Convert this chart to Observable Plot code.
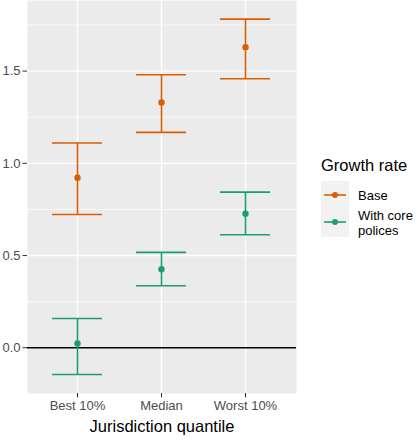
<!DOCTYPE html>
<html>
<head>
<meta charset="utf-8">
<script src="https://cdn.jsdelivr.net/npm/d3@7"></script>
<script src="https://cdn.jsdelivr.net/npm/@observablehq/plot@0.6"></script>
<style>
  html, body { margin: 0; padding: 0; background: #fff; }
  #wrap { position: relative; width: 417px; height: 440px; font-family: "Liberation Sans", Arial, sans-serif; }
  #legend { position: absolute; left: 321px; top: 155px; color: #000; }
  #legend .title { font-size: 16.5px; line-height: 20px; white-space: nowrap; }
  #legend .keys { position: absolute; left: 0; top: 26px; }
  #legend .lab { position: absolute; left: 37px; font-size: 13px; line-height: 15px; white-space: nowrap; }
</style>
</head>
<body>
<div id="wrap"></div>
<script>
const quantiles = ["Best 10%", "Median", "Worst 10%"];
const seriesNames = ["Base", "With core polices"];
const seriesColors = ["#D95F02", "#1B9E77"];
const baseMid = [0.922, 1.330, 1.630];
const baseLo  = [0.723, 1.168, 1.459];
const baseHi  = [1.110, 1.480, 1.782];
const coreMid = [0.023, 0.426, 0.727];
const coreLo  = [-0.145, 0.336, 0.613];
const coreHi  = [0.159, 0.517, 0.844];
const yTicks = [0, 0.5, 1.0, 1.5];
const yMinor = [0.25, 0.75, 1.25, 1.75];

const rows = [];
quantiles.forEach((q, i) => {
  rows.push({q, s: seriesNames[0], mid: baseMid[i], lo: baseLo[i], hi: baseHi[i]});
  rows.push({q, s: seriesNames[1], mid: coreMid[i], lo: coreLo[i], hi: coreHi[i]});
});

const plot = Plot.plot({
  width: 417,
  height: 440,
  marginLeft: 27,
  marginRight: 121,
  marginTop: 0,
  marginBottom: 47,
  style: {fontFamily: "Liberation Sans, Arial, sans-serif", fontSize: "13px", background: "#fff"},
  x: {type: "band", domain: quantiles, paddingInner: 0.4, paddingOuter: 0.3, label: null},
  y: {domain: [-0.248, 1.883], label: null},
  color: {domain: seriesNames, range: seriesColors},
  marks: [
    Plot.frame({fill: "#EBEBEB", stroke: null}),
    Plot.ruleY(yMinor, {stroke: "#fff", strokeWidth: 0.7}),
    Plot.ruleY(yTicks, {stroke: "#fff", strokeWidth: 1.4}),
    Plot.ruleX(quantiles, {stroke: "#fff", strokeWidth: 1.4}),
    Plot.ruleY([0], {stroke: "#000", strokeWidth: 1.3}),
    Plot.ruleX(rows, {x: "q", y1: "lo", y2: "hi", stroke: "s", strokeWidth: 1.6}),
    Plot.tickY(rows, {x: "q", y: "lo", stroke: "s", strokeWidth: 1.6}),
    Plot.tickY(rows, {x: "q", y: "hi", stroke: "s", strokeWidth: 1.6}),
    Plot.dot(rows, {x: "q", y: "mid", fill: "s", r: 3.2}),
    Plot.axisY({ticks: yTicks, tickFormat: d3.format(".1f"), tickSize: 4.5, tickPadding: 2.5, stroke: "#333333", fill: "#4D4D4D", fontSize: 13, label: null}),
    Plot.axisX({tickSize: 4.5, tickPadding: 2.5, stroke: "#333333", fill: "#4D4D4D", fontSize: 13, label: null}),
    Plot.text(["Jurisdiction quantile"], {frameAnchor: "bottom", dy: 38, fontSize: 16.5, fill: "#000"})
  ]
});

const wrap = document.getElementById("wrap");
wrap.appendChild(plot);

const legend = document.createElement("div");
legend.id = "legend";
let html = `<div class="title">Growth rate</div><div class="keys">`;
html += `<svg width="28" height="56" style="position:absolute;left:0;top:0"><rect x="0" y="0" width="28" height="56" fill="#F2F2F2"/>`;
const keyY = [14, 41];
seriesColors.forEach((c, i) => {
  html += `<line x1="3" x2="25" y1="${keyY[i]}" y2="${keyY[i]}" stroke="${c}" stroke-width="1.6"/><circle cx="14" cy="${keyY[i]}" r="3" fill="${c}"/>`;
});
html += `</svg>`;
html += `<div class="lab" style="top:${keyY[0] - 7.5}px">${seriesNames[0]}</div>`;
html += `<div class="lab" style="top:26.5px">With core<br>polices</div>`;
html += `</div>`;
legend.innerHTML = html;
wrap.appendChild(legend);
</script>
</body>
</html>
